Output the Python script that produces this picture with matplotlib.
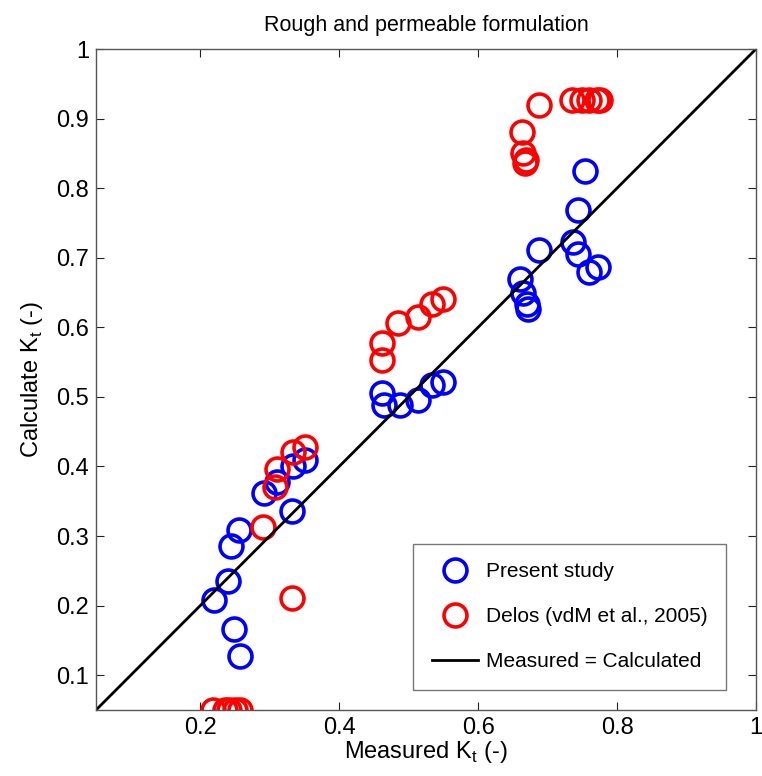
import matplotlib
matplotlib.use("Agg")
import matplotlib.pyplot as plt

plt.rcParams['font.family'] = ['Liberation Sans', 'DejaVu Sans']

# Present study (blue)
present_x = [0.220, 0.240, 0.245, 0.256, 0.248, 0.257, 0.292, 0.310, 0.332, 0.334, 0.351,
             0.461, 0.464, 0.488, 0.514, 0.533, 0.550,
             0.754, 0.744, 0.687, 0.737, 0.744, 0.759, 0.773, 0.660, 0.665, 0.670, 0.672]
present_y = [0.208, 0.235, 0.286, 0.309, 0.167, 0.127, 0.362, 0.378, 0.336, 0.401, 0.409,
             0.505, 0.488, 0.488, 0.495, 0.517, 0.522,
             0.824, 0.769, 0.711, 0.723, 0.706, 0.680, 0.687, 0.670, 0.649, 0.634, 0.627]

# Delos (vdM et al., 2005) (red)
delos_x = [0.218, 0.236, 0.242, 0.250, 0.257,
           0.291, 0.308, 0.311, 0.334, 0.351, 0.332,
           0.462, 0.462, 0.485, 0.514, 0.533, 0.550,
           0.687, 0.663, 0.665, 0.669, 0.668,
           0.735, 0.749, 0.759, 0.771, 0.775]
delos_y = [0.050, 0.050, 0.050, 0.050, 0.050,
           0.313, 0.371, 0.397, 0.421, 0.428, 0.211,
           0.577, 0.553, 0.606, 0.615, 0.634, 0.641,
           0.920, 0.881, 0.850, 0.840, 0.836,
           0.927, 0.927, 0.927, 0.927, 0.927]

line_vals = [0.05, 1.0]

x_ticks = [0.2, 0.4, 0.6, 0.8, 1.0]
x_ticklabels = ['0.2', '0.4', '0.6', '0.8', '1']
y_ticks = [0.1, 0.2, 0.3, 0.4, 0.5, 0.6, 0.7, 0.8, 0.9, 1.0]
y_ticklabels = ['0.1', '0.2', '0.3', '0.4', '0.5', '0.6', '0.7', '0.8', '0.9', '1']

fig = plt.figure(figsize=(7.62, 7.76), dpi=100)
ax = fig.add_axes([96/762, 66/776, 660/762, 661/776])

ms = 16.5
mew = 2.6
ax.plot(present_x, present_y, linestyle='none', marker='o', markersize=ms,
        markerfacecolor='none', markeredgecolor='#0000ff', markeredgewidth=mew,
        label='Present study')
ax.plot(delos_x, delos_y, linestyle='none', marker='o', markersize=ms,
        markerfacecolor='none', markeredgecolor='#ff0000', markeredgewidth=mew,
        label='Delos (vdM et al., 2005)')
ax.plot(line_vals, line_vals, color='black', linewidth=2.0, label='Measured = Calculated')

ax.set_xlim(0.05, 1.0)
ax.set_ylim(0.05, 1.0)
ax.set_xticks(x_ticks)
ax.set_xticklabels(x_ticklabels)
ax.set_yticks(y_ticks)
ax.set_yticklabels(y_ticklabels)
ax.tick_params(direction='in', length=6, width=0.8, top=True, right=True,
               labelsize=17, colors='#222222', labelcolor='black', pad=5)
for s in ax.spines.values():
    s.set_color('#555555')
    s.set_linewidth(1.0)

ax.set_xlabel('Measured K$_\\mathregular{t}$ (-)', fontsize=17, labelpad=0)
ax.set_ylabel('Calculate K$_\\mathregular{t}$ (-)', fontsize=17, labelpad=8)
ax.set_title('Rough and permeable formulation', fontsize=15.5, pad=13)

leg = ax.legend(loc='lower right', bbox_to_anchor=(0.955, 0.03), fontsize=15,
                frameon=True, fancybox=False, edgecolor='#555555',
                labelspacing=1.25, handlelength=2.2, handletextpad=0.4,
                borderpad=0.9, borderaxespad=0)
leg.get_frame().set_linewidth(1.0)

fig.savefig('out.png', dpi=100)
